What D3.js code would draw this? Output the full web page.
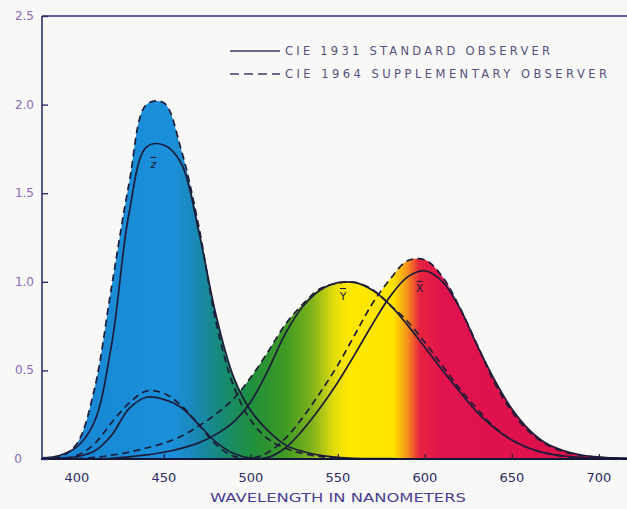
<!DOCTYPE html>
<html>
<head>
<meta charset="utf-8">
<script src="https://cdn.jsdelivr.net/npm/d3@7"></script>
<style>
  html, body { margin: 0; padding: 0; background: #f8f8f6; }
  svg { display: block; }
</style>
</head>
<body>
<svg id="chart" width="627" height="509"></svg>
<script>
// Wavelengths (nm), 10 nm steps
const wavelengths = [380,390,400,410,420,430,440,450,460,470,480,490,500,510,520,530,540,550,560,570,580,590,600,610,620,630,640,650,660,670,680,690,700,710,720];

// CIE 1931 2° standard observer
const x1931 = [0.001368,0.004243,0.014310,0.043510,0.134380,0.283900,0.348280,0.336200,0.290800,0.195360,0.095640,0.032010,0.004900,0.009300,0.063270,0.165500,0.290400,0.433450,0.594500,0.762100,0.916300,1.026300,1.062200,1.002600,0.854450,0.642400,0.447900,0.283500,0.164900,0.087400,0.046770,0.022700,0.011359,0.005790,0.002899];
const y1931 = [0.000039,0.000120,0.000396,0.001210,0.004000,0.011600,0.023000,0.038000,0.060000,0.090980,0.139020,0.208020,0.323000,0.503000,0.710000,0.862000,0.954000,0.994950,0.995000,0.952000,0.870000,0.757000,0.631000,0.503000,0.381000,0.265000,0.175000,0.107000,0.061000,0.032000,0.017000,0.008210,0.004102,0.002091,0.001047];
const z1931 = [0.006450,0.020050,0.067850,0.207400,0.645600,1.385600,1.760000,1.772110,1.669200,1.287640,0.812950,0.465180,0.272000,0.158200,0.078250,0.042160,0.020300,0.008750,0.003900,0.002100,0.001650,0.001100,0.000800,0.000340,0.000190,0.000050,0.000020,0,0,0,0,0,0,0,0];

// CIE 1964 10° supplementary observer
const x1964 = [0.000160,0.002362,0.019110,0.084736,0.204492,0.314679,0.383734,0.370702,0.302273,0.195618,0.080507,0.016172,0.003816,0.037465,0.117749,0.236491,0.376772,0.529826,0.705224,0.878655,1.014160,1.118520,1.123990,1.030480,0.856297,0.647467,0.431567,0.268329,0.152568,0.081261,0.040851,0.019941,0.009577,0.004553,0.002175];
const y1964 = [0.000017,0.000253,0.002004,0.008756,0.021391,0.038676,0.062077,0.089456,0.128201,0.185190,0.253589,0.339133,0.460777,0.606741,0.761757,0.875211,0.961988,0.991761,0.997340,0.955552,0.868934,0.777405,0.658341,0.527963,0.398057,0.283493,0.179828,0.107633,0.060281,0.031800,0.015905,0.007749,0.003718,0.001768,0.000846];
const z1964 = [0.000705,0.010482,0.086011,0.389366,0.972542,1.553480,2.000000,2.010000,1.745370,1.317560,0.772125,0.415254,0.218502,0.112044,0.060709,0.030451,0.013676,0.003988,0,0,0,0,0,0,0,0,0,0,0,0,0,0,0,0,0];

// Axis ticks
const xTicks = [400,450,500,550,600,650,700];
const yTicks = [0,0.5,1.0,1.5,2.0,2.5];
const yTickLabels = ["0","0.5","1.0","1.5","2.0","2.5"];

const legendLabels = ["CIE 1931 STANDARD OBSERVER","CIE 1964 SUPPLEMENTARY OBSERVER"];

// Spectrum colours laid along the wavelength axis
const spectrumStops = [
  [380,"#1784d2"],[455,"#1b90da"],[468,"#1a88b8"],[484,"#178a72"],[500,"#1f8f3e"],
  [520,"#3f9a22"],[535,"#7fb21c"],[548,"#e2dc0c"],[556,"#ffe800"],[582,"#ffe400"],
  [590,"#f5901c"],[597,"#e6243f"],[610,"#e1134e"],[720,"#dd104b"]
];

const svg = d3.select("#chart");
const W = 627, H = 509;

const x = d3.scaleLinear().domain([380, 720]).range([42, 42 + 340 * 1.74]);
const y = d3.scaleLinear().domain([0, 2.5]).range([459, 16]);

const ink = "#1d1d3a";

const series = [
  {name:"x1931", v:x1931, dashed:false},
  {name:"y1931", v:y1931, dashed:false},
  {name:"z1931", v:z1931, dashed:false},
  {name:"x1964", v:x1964, dashed:true},
  {name:"y1964", v:y1964, dashed:true},
  {name:"z1964", v:z1964, dashed:true}
];

const curve = d3.curveCatmullRom.alpha(0.5);
const line = d3.line().x((d,i) => x(wavelengths[i])).y(d => y(d)).curve(curve);
const area = d3.area().x((d,i) => x(wavelengths[i])).y0(y(0)).y1(d => y(d)).curve(curve);

const defs = svg.append("defs");

// Horizontal spectrum gradient in user space
const grad = defs.append("linearGradient")
  .attr("id", "spectrum")
  .attr("gradientUnits", "userSpaceOnUse")
  .attr("x1", x(380)).attr("x2", x(720)).attr("y1", 0).attr("y2", 0);
grad.selectAll("stop").data(spectrumStops).join("stop")
  .attr("offset", d => (d[0] - 380) / 340)
  .attr("stop-color", d => d[1]);

// The union of all areas under the curves is the coloured region
const clip = defs.append("clipPath").attr("id", "underCurves");
clip.selectAll("path").data(series).join("path").attr("d", d => area(d.v));

const plotClip = defs.append("clipPath").attr("id", "plot");
plotClip.append("rect").attr("x", 42).attr("y", 10).attr("width", W - 42).attr("height", 459 - 10);

svg.append("rect")
  .attr("x", x(380)).attr("y", y(2.5))
  .attr("width", x(720) - x(380)).attr("height", y(0) - y(2.5))
  .attr("fill", "url(#spectrum)")
  .attr("clip-path", "url(#underCurves)");

// Curves
const curves = svg.append("g").attr("clip-path", "url(#plot)");
curves.selectAll("path").data(series).join("path")
  .attr("d", d => line(d.v))
  .attr("fill", "none")
  .attr("stroke", ink)
  .attr("stroke-width", 1.7)
  .attr("stroke-dasharray", d => d.dashed ? "7,4.5" : null)
  .attr("stroke-linejoin", "round");

// Frame: left axis, top rule, baseline
svg.append("line").attr("x1", x(380)).attr("x2", W).attr("y1", y(2.5)).attr("y2", y(2.5))
  .attr("stroke", "#2a3270").attr("stroke-width", 1.4);
svg.append("line").attr("x1", x(380)).attr("x2", x(380)).attr("y1", y(2.5)).attr("y2", y(0))
  .attr("stroke", "#2a3270").attr("stroke-width", 1.6);
svg.append("line").attr("x1", x(380) - 1).attr("x2", W).attr("y1", y(0)).attr("y2", y(0))
  .attr("stroke", "#141838").attr("stroke-width", 2.2);

// Y axis
const yAxis = d3.axisRight(y).tickValues(yTicks).tickSize(6).tickFormat("");
const gy = svg.append("g").attr("transform", `translate(${x(380)},0)`).call(yAxis);
gy.select(".domain").remove();
gy.selectAll(".tick line").attr("stroke", "#2a3270").attr("stroke-width", 1.4);
svg.append("g").selectAll("text").data(yTicks).join("text")
  .attr("x", (d,i) => i === 0 ? 22 : 34)
  .attr("y", d => y(d) + 4)
  .attr("text-anchor", "end")
  .attr("font-family", "'DejaVu Sans', sans-serif")
  .attr("font-size", 12)
  .attr("fill", "#8a68b8")
  .text((d,i) => yTickLabels[i]);

// X axis
const xAxis = d3.axisTop(x).tickValues(xTicks).tickSize(5).tickFormat("");
const gx = svg.append("g").attr("transform", `translate(0,${y(0)})`).call(xAxis);
gx.select(".domain").remove();
gx.selectAll(".tick line").attr("stroke", ink).attr("stroke-width", 1.2);
svg.append("g").selectAll("text").data(xTicks).join("text")
  .attr("x", d => x(d))
  .attr("y", 482)
  .attr("text-anchor", "middle")
  .attr("font-family", "'DejaVu Sans', sans-serif")
  .attr("font-size", 13)
  .attr("fill", "#2e2c66")
  .text(d => d);

svg.append("text")
  .attr("x", 210).attr("y", 502)
  .attr("textLength", 256).attr("lengthAdjust", "spacingAndGlyphs")
  .attr("font-family", "'DejaVu Sans', sans-serif")
  .attr("font-size", 12.5)
  .attr("fill", "#4a3e92")
  .text("WAVELENGTH IN NANOMETERS");

// Legend
const legend = svg.append("g");
const legendY = [51, 74];
const legendEnd = [550, 607];
legendLabels.forEach((lab, i) => {
  legend.append("line")
    .attr("x1", 230).attr("x2", 280).attr("y1", legendY[i]).attr("y2", legendY[i])
    .attr("stroke", "#3a3e6a").attr("stroke-width", 1.3)
    .attr("stroke-dasharray", i === 1 ? "9,5" : null);
  legend.append("text")
    .attr("x", 285).attr("y", legendY[i] + 4)
    .attr("textLength", legendEnd[i] - 285).attr("lengthAdjust", "spacing")
    .attr("font-family", "'DejaVu Sans', sans-serif")
    .attr("font-size", 11.5)
    .attr("fill", "#55507e")
    .text(lab);
});

// Curve names with bars
const names = [
  {t:"z", lam:444, v:1.64, italic:true},
  {t:"Y", lam:553, v:0.9, italic:false},
  {t:"X", lam:597, v:0.94, italic:false}
];
names.forEach(n => {
  const tx = x(n.lam), ty = y(n.v);
  svg.append("text")
    .attr("x", tx).attr("y", ty)
    .attr("text-anchor", "middle")
    .attr("font-family", "'DejaVu Sans', sans-serif")
    .attr("font-size", 11)
    .attr("font-style", n.italic ? "italic" : "normal")
    .attr("fill", "#1d1d3a")
    .text(n.t);
  svg.append("line")
    .attr("x1", tx - 3).attr("x2", tx + 3).attr("y1", ty - 11).attr("y2", ty - 11)
    .attr("stroke", "#1d1d3a").attr("stroke-width", 1);
});
</script>
</body>
</html>
